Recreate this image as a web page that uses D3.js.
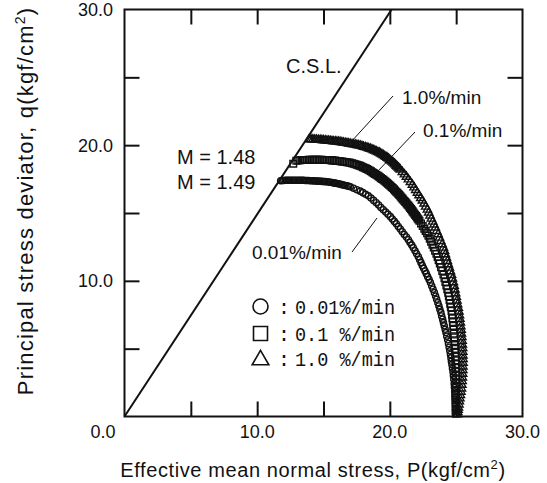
<!DOCTYPE html>
<html>
<head>
<meta charset="utf-8">
<script src="https://cdn.jsdelivr.net/npm/d3@7"></script>
<style>
  html, body { margin: 0; padding: 0; background: #fff; }
  svg { display: block; }
  text { fill: #111; }
</style>
</head>
<body>
<svg id="chart" width="547" height="483"></svg>
<script>
// Effective stress paths (P, q) for three axial strain rates, kgf/cm2.
// Readings run from the start of shearing up to the critical state line;
// the closely spaced late-stage readings near the peak follow each main block.
const rate001 = [
  [24.94,0.22],[24.93,0.48],[24.93,0.74],[24.92,0.99],[24.91,1.25],[24.90,1.52],[24.89,1.82],[24.87,2.14],
  [24.85,2.41],[24.82,2.74],[24.79,3.02],[24.76,3.29],[24.72,3.56],[24.68,3.83],[24.64,4.07],[24.61,4.32],
  [24.57,4.57],[24.52,4.84],[24.47,5.11],[24.42,5.38],[24.36,5.65],[24.29,5.92],[24.23,6.19],[24.17,6.43],
  [24.10,6.68],[24.04,6.92],[23.98,7.17],[23.91,7.41],[23.85,7.66],[23.77,7.90],[23.70,8.15],[23.62,8.39],
  [23.53,8.64],[23.45,8.88],[23.36,9.13],[23.26,9.38],[23.16,9.62],[23.06,9.87],[22.96,10.09],[22.85,10.31],
  [22.75,10.53],[22.65,10.73],[22.55,10.92],[22.45,11.12],[22.35,11.34],[22.25,11.56],[22.15,11.78],[22.02,12.00],
  [21.90,12.22],[21.77,12.44],[21.65,12.64],[21.52,12.83],[21.40,13.03],[21.25,13.23],[21.09,13.42],[20.94,13.62],
  [20.79,13.82],[20.64,14.01],[20.49,14.21],[20.34,14.38],[20.19,14.56],[20.04,14.73],[19.86,14.90],[19.69,15.07],
  [19.51,15.24],[19.33,15.41],[19.16,15.59],[18.98,15.76],[18.78,15.93],[18.58,16.10],[18.38,16.27],[18.18,16.38],
  [17.97,16.50],[17.77,16.61],[17.52,16.72],[17.27,16.83],[17.02,16.94],[16.77,17.00],[16.51,17.06],[16.26,17.12],
  [16.01,17.17],[15.76,17.22],[15.51,17.27],[15.26,17.30],[15.00,17.32],[14.75,17.34],[14.50,17.35],[14.25,17.37],
  [14.00,17.38],[13.75,17.39],[13.50,17.41],[13.25,17.42],[13.00,17.42],[12.74,17.42],[12.49,17.42],[12.25,17.41],
  [12.01,17.40],[11.77,17.38],
  [16.90,16.97],[16.64,17.03],[16.39,17.09],[16.14,17.15],[15.89,17.20],[15.64,17.25],[15.39,17.29],[15.13,17.31],
  [14.88,17.33],[14.63,17.35],[14.38,17.36],[14.13,17.38],[13.88,17.39],[13.63,17.40],[13.38,17.42],[13.13,17.42],
  [12.87,17.42],[12.62,17.42],[12.37,17.42],[12.13,17.41],[11.89,17.39]
];

const rate01 = [
  [24.98,0.22],[24.98,0.50],[24.98,0.78],[24.98,1.05],[24.98,1.33],[24.98,1.61],[24.98,1.90],[24.98,2.18],
  [24.98,2.46],[24.98,2.74],[24.98,3.02],[24.97,3.30],[24.97,3.58],[24.96,3.86],[24.95,4.14],[24.94,4.42],
  [24.93,4.70],[24.91,4.98],[24.90,5.26],[24.88,5.55],[24.86,5.83],[24.83,6.11],[24.81,6.40],[24.78,6.68],
  [24.75,6.96],[24.72,7.24],[24.69,7.51],[24.65,7.78],[24.60,8.05],[24.55,8.32],[24.50,8.59],[24.45,8.86],
  [24.40,9.12],[24.33,9.39],[24.26,9.65],[24.19,9.92],[24.12,10.19],[24.04,10.46],[23.95,10.73],[23.86,11.00],
  [23.77,11.27],[23.68,11.51],[23.60,11.76],[23.51,12.00],[23.41,12.22],[23.31,12.45],[23.21,12.67],[23.11,12.89],
  [23.01,13.11],[22.91,13.33],[22.81,13.50],[22.70,13.67],[22.60,13.84],[22.48,14.04],[22.35,14.23],[22.23,14.43],
  [22.10,14.60],[21.98,14.78],[21.85,14.95],[21.72,15.12],[21.60,15.29],[21.47,15.46],[21.32,15.63],[21.17,15.81],
  [21.02,15.98],[20.87,16.15],[20.72,16.32],[20.57,16.49],[20.39,16.66],[20.22,16.84],[20.04,17.01],[19.86,17.16],
  [19.69,17.30],[19.51,17.45],[19.33,17.57],[19.16,17.70],[18.98,17.82],[18.78,17.94],[18.58,18.07],[18.38,18.19],
  [18.18,18.29],[17.97,18.38],[17.77,18.48],[17.52,18.55],[17.27,18.63],[17.02,18.70],[16.77,18.74],[16.51,18.78],
  [16.26,18.81],[16.01,18.84],[15.76,18.87],[15.51,18.89],[15.26,18.90],[15.00,18.91],[14.75,18.92],[14.50,18.92],
  [14.25,18.92],[14.00,18.92],[13.75,18.91],[13.50,18.90],[13.25,18.89],[12.95,18.85],[12.72,18.63],
  [22.16,14.52],[22.04,14.69],[21.91,14.86],[21.78,15.03],[21.66,15.20],[21.53,15.37],[21.40,15.55],[21.25,15.72],
  [21.10,15.89],[20.95,16.06],[20.80,16.23],[20.65,16.40],[20.48,16.57],[20.31,16.75],[20.13,16.92],[19.95,17.08],
  [19.78,17.23],[19.60,17.37],[19.42,17.51],[19.25,17.63],[19.07,17.76],[18.88,17.88],[18.68,18.00],[18.48,18.13],
  [18.28,18.24],[18.08,18.34],[17.87,18.43],[17.65,18.51],[17.40,18.59],[17.15,18.66],[16.90,18.72],[16.64,18.76],
  [16.39,18.80],[16.14,18.83],[15.89,18.86],[15.64,18.88],[15.39,18.90],[15.13,18.91],[14.88,18.92],[14.63,18.92],
  [14.38,18.92],[14.13,18.92],[13.88,18.92],[13.63,18.91],[13.38,18.90],[13.10,18.87]
];

const rate10 = [
  [25.09,0.15],[25.12,0.32],[25.14,0.49],[25.17,0.66],[25.21,0.88],[25.24,1.11],[25.28,1.33],[25.32,1.57],
  [25.36,1.82],[25.40,2.06],[25.43,2.33],[25.45,2.60],[25.47,2.87],[25.49,3.14],[25.50,3.41],[25.51,3.68],
  [25.52,3.95],[25.52,4.22],[25.51,4.49],[25.50,4.76],[25.49,5.03],[25.47,5.30],[25.45,5.57],[25.43,5.84],
  [25.40,6.11],[25.38,6.38],[25.35,6.65],[25.32,6.92],[25.28,7.19],[25.25,7.46],[25.21,7.73],[25.16,8.00],
  [25.11,8.27],[25.06,8.54],[25.01,8.81],[24.96,9.08],[24.91,9.35],[24.85,9.62],[24.79,9.89],[24.72,10.16],
  [24.65,10.43],[24.57,10.70],[24.49,10.97],[24.41,11.22],[24.34,11.46],[24.26,11.71],[24.19,11.95],[24.12,12.20],
  [24.04,12.44],[23.94,12.69],[23.84,12.93],[23.74,13.18],[23.64,13.43],[23.53,13.67],[23.43,13.92],[23.33,14.14],
  [23.23,14.36],[23.13,14.58],[23.03,14.80],[22.93,15.02],[22.83,15.24],[22.70,15.46],[22.58,15.69],[22.45,15.91],
  [22.33,16.10],[22.20,16.30],[22.08,16.49],[21.95,16.69],[21.83,16.88],[21.70,17.08],[21.55,17.28],[21.40,17.47],
  [21.25,17.67],[21.10,17.84],[20.94,18.02],[20.79,18.19],[20.64,18.34],[20.49,18.48],[20.34,18.63],[20.16,18.78],
  [19.99,18.92],[19.81,19.07],[19.61,19.19],[19.41,19.32],[19.21,19.44],[18.98,19.54],[18.76,19.63],[18.53,19.73],
  [18.28,19.81],[18.02,19.88],[17.77,19.96],[17.52,20.01],[17.27,20.05],[17.02,20.10],[16.77,20.14],[16.51,20.19],
  [16.26,20.23],[16.01,20.26],[15.76,20.28],[15.51,20.31],[15.26,20.33],[15.00,20.36],[14.75,20.38],[14.47,20.40],
  [14.20,20.42],[13.92,20.43],
  [20.71,18.27],[20.56,18.41],[20.41,18.56],[20.25,18.71],[20.07,18.85],[19.90,19.00],[19.71,19.13],[19.51,19.26],
  [19.31,19.38],[19.10,19.49],[18.87,19.59],[18.65,19.68],[18.41,19.77],[18.15,19.85],[17.90,19.92],[17.65,19.99],
  [17.40,20.03],[17.15,20.08],[16.90,20.12],[16.64,20.17],[16.39,20.21],[16.14,20.25],[15.89,20.27],[15.64,20.30],
  [15.39,20.32],[15.13,20.35],[14.88,20.37],[14.61,20.39],[14.34,20.41],[14.06,20.43]
];

// Critical state line slope
const cslM = 1.49;

// Tick positions and labels
const tickVals = [5, 10, 15, 20, 25];
const labelVals = [10, 20, 30];
const originLabel = "0.0";

// Series definitions (legend + markers)
const seriesNames = ["0.01%/min", "0.1 %/min", "1.0 %/min"];
const seriesData = [rate001, rate01, rate10];
const seriesSymbols = [d3.symbolCircle, d3.symbolSquare, d3.symbolTriangle];

const svg = d3.select("#chart");
const plotL = 124.5, plotR = 522.5, plotT = 9.5, plotB = 416.5;

const x = d3.scaleLinear().domain([0, 30]).range([plotL, plotR]);
const y = d3.scaleLinear().domain([0, 30]).range([plotB, plotT]);

const sans = "'Liberation Sans', Arial, Helvetica, sans-serif";
const mono = "'Liberation Mono', 'DejaVu Sans Mono', monospace";

// Inward ticks on all four sides
function tickAxis(axis, tx, ty) {
  const g = svg.append("g").attr("transform", `translate(${tx},${ty})`)
    .call(axis.tickValues(tickVals).tickSizeInner(-15).tickSizeOuter(0).tickFormat(""));
  g.select(".domain").remove();
  g.selectAll(".tick line").attr("stroke", "#111").attr("stroke-width", 2);
}
tickAxis(d3.axisBottom(x), 0, plotB);
tickAxis(d3.axisTop(x), 0, plotT);
tickAxis(d3.axisLeft(y), plotL, 0);
tickAxis(d3.axisRight(y), plotR, 0);

// Frame
svg.append("rect")
  .attr("x", plotL).attr("y", plotT)
  .attr("width", plotR - plotL).attr("height", plotB - plotT)
  .attr("fill", "none").attr("stroke", "#111").attr("stroke-width", 2);

// Tick labels
const fmt = d3.format(".1f");
svg.append("g").selectAll("text").data(labelVals).join("text")
  .attr("x", d => x(d)).attr("y", 437.5)
  .attr("text-anchor", "middle")
  .style("font-family", sans).style("font-size", "18px")
  .text(d => fmt(d));
svg.append("g").selectAll("text").data(labelVals).join("text")
  .attr("x", 113).attr("y", d => y(d) + 6.5)
  .attr("text-anchor", "end")
  .style("font-family", sans).style("font-size", "18px")
  .text(d => fmt(d));
svg.append("text")
  .attr("x", 103).attr("y", 437.5)
  .attr("text-anchor", "middle")
  .style("font-family", sans).style("font-size", "18px")
  .text(originLabel);

// Axis titles
const xt = svg.append("text")
  .attr("x", 313).attr("y", 476.5)
  .attr("text-anchor", "middle")
  .style("font-family", sans).style("font-size", "20px").style("letter-spacing", "0.6px");
xt.append("tspan").text("Effective mean normal stress, P(kgf/cm");
xt.append("tspan").attr("dy", -8).style("font-size", "13px").text("2");
xt.append("tspan").attr("dy", 8).text(")");

const yt = svg.append("text")
  .attr("transform", "translate(33,201) rotate(-90)")
  .attr("text-anchor", "middle")
  .style("font-family", sans).style("font-size", "22px").style("letter-spacing", "1.2px");
yt.append("tspan").text("Principal stress deviator, q(kgf/cm");
yt.append("tspan").attr("dy", -8).style("font-size", "14px").text("2");
yt.append("tspan").attr("dy", 8).text(")");

// Critical state line
const qTop = 30;
svg.append("line")
  .attr("x1", x(0)).attr("y1", y(0))
  .attr("x2", x(qTop / cslM)).attr("y2", y(qTop))
  .attr("stroke", "#111").attr("stroke-width", 2);

// Stress path markers
const markerSizes = [30, 44, 30];
seriesData.forEach((data, i) => {
  const sym = d3.symbol().type(seriesSymbols[i]).size(markerSizes[i]);
  svg.append("g").selectAll("path").data(data).join("path")
    .attr("transform", d => `translate(${x(d[0])},${y(d[1])})`)
    .attr("d", sym)
    .attr("fill", "none").attr("stroke", "#111").attr("stroke-width", 1.4);
});

// Annotations
svg.append("text").attr("x", 286).attr("y", 72.5)
  .style("font-family", sans).style("font-size", "20px").text("C.S.L.");
svg.append("text").attr("x", 177).attr("y", 163.5)
  .style("font-family", sans).style("font-size", "20px").text("M = 1.48");
svg.append("text").attr("x", 177).attr("y", 188.5)
  .style("font-family", sans).style("font-size", "20px").text("M = 1.49");

const notes = [
  { text: "1.0%/min", tx: 402, ty: 103.5, l: [393, 96, 350, 143] },
  { text: "0.1%/min", tx: 423, ty: 136.5, l: [415, 132, 377, 172] },
  { text: "0.01%/min", tx: 252, ty: 258.5, l: [352, 252, 377, 218] }
];
notes.forEach(n => {
  svg.append("text").attr("x", n.tx).attr("y", n.ty)
    .style("font-family", sans).style("font-size", "19px").text(n.text);
  svg.append("line")
    .attr("x1", n.l[0]).attr("y1", n.l[1]).attr("x2", n.l[2]).attr("y2", n.l[3])
    .attr("stroke", "#111").attr("stroke-width", 1);
});

// Legend
const legendY = [306.5, 333.5, 358.5];
const legendSizes = [177, 196, 120];
seriesNames.forEach((name, i) => {
  const sym = d3.symbol().type(seriesSymbols[i]).size(legendSizes[i]);
  svg.append("path")
    .attr("transform", `translate(260.5,${legendY[i] + (i === 2 ? 1.5 : 0)})`)
    .attr("d", sym)
    .attr("fill", "none").attr("stroke", "#111").attr("stroke-width", 1.6);
  svg.append("text").attr("x", 284).attr("y", legendY[i] + 7)
    .attr("text-anchor", "middle")
    .style("font-family", mono).style("font-size", "20px").text(":");
  svg.append("text").attr("x", 295).attr("y", legendY[i] + 7.5)
    .attr("textLength", 100).attr("lengthAdjust", "spacingAndGlyphs")
    .style("font-family", mono).style("font-size", "20px").text(name);
});
</script>
</body>
</html>
